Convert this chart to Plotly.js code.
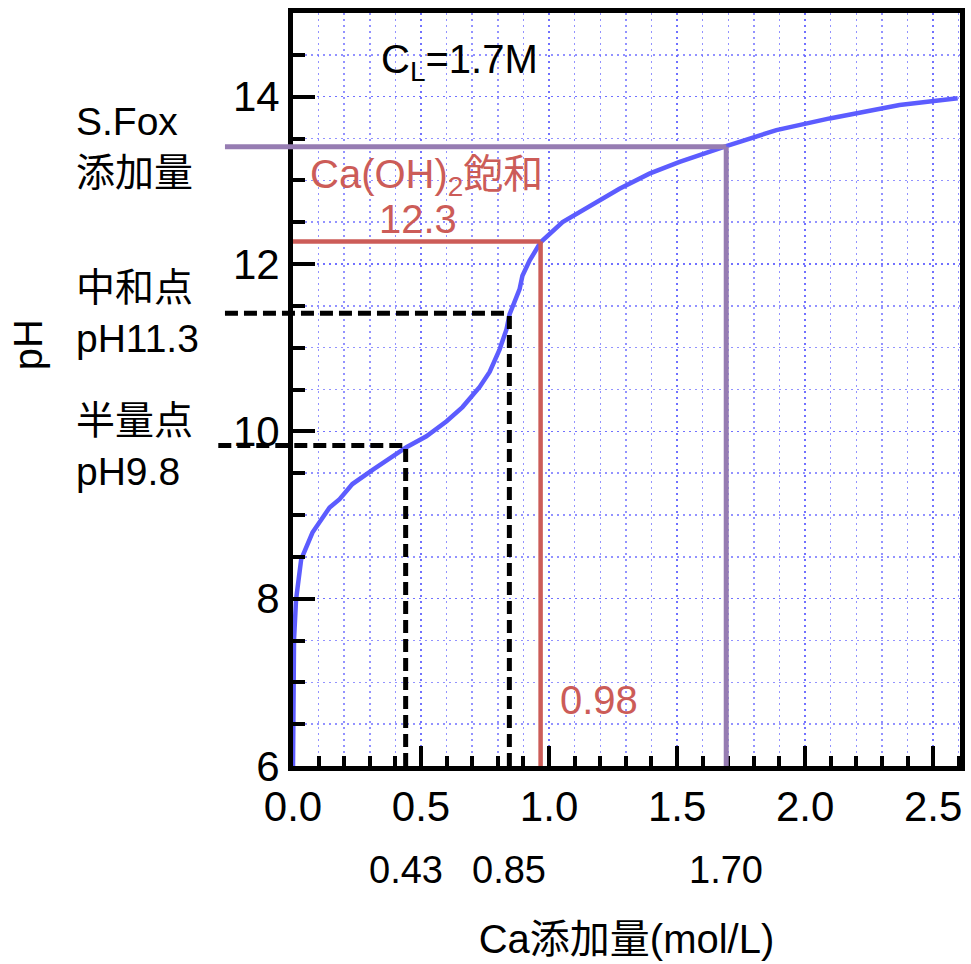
<!DOCTYPE html>
<html><head><meta charset="utf-8">
<script src="https://cdn.plot.ly/plotly-3.0.1.min.js"></script>
<style>html,body{margin:0;padding:0;background:#fff}</style>
</head><body><div id="chart" style="width:971px;height:964px"></div>
<script>
// Titration curve: Ca added (mol/L) vs pH
const caAdded = [0, 0.004, 0.012, 0.032, 0.076, 0.104, 0.143, 0.182, 0.232, 0.311, 0.389, 0.443, 0.521, 0.600, 0.662, 0.729, 0.768, 0.807, 0.834, 0.846, 0.885, 0.896, 0.924, 0.967, 1.053, 1.158, 1.275, 1.392, 1.510, 1.692, 1.888, 2.096, 2.369, 2.596];
const pHValues = [6.0, 7.51, 7.99, 8.47, 8.79, 8.91, 9.09, 9.19, 9.37, 9.54, 9.70, 9.81, 9.94, 10.12, 10.29, 10.53, 10.71, 10.98, 11.22, 11.40, 11.70, 11.86, 12.04, 12.26, 12.50, 12.69, 12.90, 13.08, 13.22, 13.41, 13.60, 13.74, 13.90, 13.98];

// Marked points: half point, neutralisation point, Ca(OH)2 saturation, S.Fox addition
const markX = [0.44, 0.845, 0.967, 1.692];
const markPH = [9.83, 11.41, 12.27, 13.40];
const markXLabels = ['0.43', '0.85', '0.98', '1.70'];
const markLeftLabels = ['半量点<br>pH9.8', '中和点<br>pH11.3', '', 'S.Fox<br>添加量'];

const xTickVals = [0, 0.5, 1.0, 1.5, 2.0, 2.5];
const xTickText = ['0.0', '0.5', '1.0', '1.5', '2.0', '2.5'];
const yTickVals = [6, 8, 10, 12, 14];
const yTickText = ['6', '8', '10', '12', '14'];

const xRange = [0, 2.605];
const yRange = [6, 15];

const FONT = 'Liberation Sans, Arial, Noto Sans CJK JP, sans-serif';
const RED = 'rgb(204,92,88)';
const PURPLE = 'rgb(150,124,178)';
const BLUE = 'rgb(92,92,255)';
const GRID = 'rgba(100,100,255,0.7)';
const GRIDDASH = '2px,4px';

// Styles per mark (same order as the arrays above)
const markStyle = [
  {color: '#000', width: 5, dash: '13px,6px'},
  {color: '#000', width: 5, dash: '13px,6px'},
  {color: RED, width: 4.5, dash: 'solid'},
  {color: PURPLE, width: 5, dash: 'solid'}
];
const hLineStartPaper = [-0.112, -0.102, 0, -0.102];

const toPaperX = v => (v - xRange[0]) / (xRange[1] - xRange[0]);

const shapes = [];
const annotations = [];
markX.forEach((mx, i) => {
  shapes.push({type: 'line', xref: 'x', yref: 'y', x0: mx, x1: mx, y0: yRange[0], y1: markPH[i], line: markStyle[i]});
  shapes.push({type: 'line', xref: 'paper', yref: 'y', x0: hLineStartPaper[i], x1: toPaperX(mx), y0: markPH[i], y1: markPH[i], line: markStyle[i]});
  if (markLeftLabels[i]) {
    annotations.push({xref: 'paper', yref: 'y', x: -0.329, y: markPH[i], xanchor: 'left', yanchor: 'middle', align: 'left',
      text: markLeftLabels[i], showarrow: false, font: {family: FONT, size: 39, color: '#000'}});
  }
  if (i !== 2) {
    annotations.push({xref: 'x', yref: 'paper', x: mx, y: -0.138, xanchor: 'center', yanchor: 'middle',
      text: markXLabels[i], showarrow: false, font: {family: FONT, size: 38, color: '#000'}});
  }
});
// Ca(OH)2 saturation labels
annotations.push({xref: 'paper', yref: 'paper', x: 0.022, y: 0.782, xanchor: 'left', yanchor: 'middle',
  text: 'Ca(OH)<sub>2</sub>飽和', showarrow: false, font: {family: FONT, size: 40, color: RED}});
annotations.push({xref: 'paper', yref: 'paper', x: 0.187, y: 0.726, xanchor: 'center', yanchor: 'middle',
  text: '12.3', showarrow: false, font: {family: FONT, size: 40, color: RED}});
annotations.push({xref: 'x', yref: 'y', x: 1.197, y: 6.79, xanchor: 'center', yanchor: 'middle',
  text: markXLabels[2], showarrow: false, font: {family: FONT, size: 40, color: RED}});
// C_L label
annotations.push({xref: 'paper', yref: 'paper', x: 0.25, y: 0.935, xanchor: 'center', yanchor: 'middle',
  text: 'C<sub>L</sub>=1.7M', showarrow: false, font: {family: FONT, size: 40, color: '#000'}});
// y-axis title (placed as annotation to match offset)
annotations.push({xref: 'paper', yref: 'paper', x: -0.397, y: 0.559, xanchor: 'center', yanchor: 'middle',
  text: 'pH', textangle: -90, showarrow: false, font: {family: FONT, size: 40, color: '#000'}});

const trace = {
  x: caAdded, y: pHValues, type: 'scatter', mode: 'lines',
  line: {color: BLUE, width: 4.5}, hoverinfo: 'skip'
};

const layout = {
  width: 971, height: 964,
  margin: {l: 293, r: 11, t: 13, b: 198},
  paper_bgcolor: '#fff', plot_bgcolor: '#fff',
  showlegend: false,
  font: {family: FONT, color: '#000'},
  xaxis: {
    range: xRange, tickmode: 'array', tickvals: xTickVals, ticktext: xTickText,
    ticks: 'inside', ticklen: 20, tickwidth: 4, tickcolor: '#000',
    tickfont: {family: FONT, size: 42, color: '#000'},
    showline: true, linewidth: 5, linecolor: '#000', mirror: true, zeroline: false,
    showgrid: true, gridcolor: GRID, gridwidth: 1.5, griddash: GRIDDASH,
    minor: {dtick: 0.1, tick0: 0, ticks: 'inside', ticklen: 10, tickwidth: 4, tickcolor: '#000',
      showgrid: true, gridcolor: GRID, gridwidth: 1.5, griddash: GRIDDASH},
    title: {text: 'Ca添加量(mol/L)', font: {family: FONT, size: 40, color: '#000'}, standoff: 97},
    automargin: false
  },
  yaxis: {
    range: yRange, tickmode: 'array', tickvals: yTickVals, ticktext: yTickText,
    ticks: 'inside', ticklen: 22, tickwidth: 4, tickcolor: '#000',
    tickfont: {family: FONT, size: 42, color: '#000'},
    showline: true, linewidth: 5, linecolor: '#000', mirror: true, zeroline: false,
    showgrid: true, gridcolor: GRID, gridwidth: 1.5, griddash: GRIDDASH,
    minor: {dtick: 0.5, tick0: 6, ticks: 'inside', ticklen: 12, tickwidth: 4, tickcolor: '#000',
      showgrid: true, gridcolor: GRID, gridwidth: 1.5, griddash: GRIDDASH},
    automargin: false
  },
  shapes: shapes,
  annotations: annotations
};

Plotly.newPlot('chart', [trace], layout, {displayModeBar: false, staticPlot: true});
</script>
</body></html>
